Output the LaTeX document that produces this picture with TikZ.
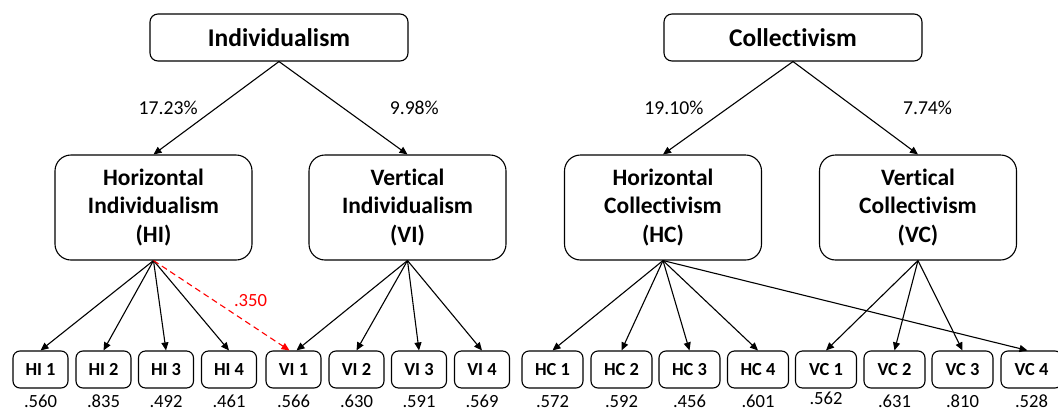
\documentclass[tikz,border=0pt]{standalone}
\usepackage{fontspec}
\setmainfont{Carlito}[Ligatures=NoCommon]
\usetikzlibrary{arrows.meta}

\begin{document}
\begin{tikzpicture}[x=1pt,y=-1pt,line width=1.1pt,
    topbox/.style={draw,rounded corners=8pt,minimum width=258pt,minimum height=47pt,
        font=\fontsize{25.5}{30}\selectfont\bfseries},
    midbox/.style={draw,rounded corners=16pt,minimum width=197pt,minimum height=105pt,
        align=center,font=\fontsize{23.5}{28.5}\selectfont\bfseries},
    itemI/.style={draw,rounded corners=7pt,minimum width=55pt,minimum height=37pt,
        inner sep=0pt,font=\fontsize{18.4}{22}\selectfont\bfseries},
    itemC/.style={itemI,minimum width=61pt},
    pct/.style={inner sep=0pt,font=\fontsize{19.7}{24}\selectfont},
    val/.style={inner sep=0pt,font=\fontsize{18.6}{22}\selectfont},
    label distance=6pt,
    arr/.style={-{Triangle[length=8pt,width=7pt]}}]
    \pgfmathsetmacro{\ytop}{37.5}
    \pgfmathsetmacro{\ymid}{207.5}
    \pgfmathsetmacro{\ybot}{369.5}

    \useasboundingbox (0,0) rectangle (1058,410);

    % Draw the two dimensions
    \node [topbox] (Ind) at (279,\ytop) {Individualism};
    \node [topbox] (Col) at (793,\ytop) {Collectivism};

    % Draw the four sub-dimensions
    \node [midbox] (HI) at (153.5,\ymid) {Horizontal\\Individualism\\(HI)};
    \node [midbox] (VI) at (407.5,\ymid) {Vertical\\Individualism\\(VI)};
    \node [midbox] (HC) at (663,\ymid) {Horizontal\\Collectivism\\(HC)};
    \node [midbox] (VC) at (918,\ymid) {Vertical\\Collectivism\\(VC)};

    % Draw the items with their loadings
    \node [itemI,label={[val]below:.560}] (HI1) at (40.5,\ybot) {HI 1};
    \node [itemI,label={[val]below:.835}] (HI2) at (103.5,\ybot) {HI 2};
    \node [itemI,label={[val]below:.492}] (HI3) at (166,\ybot) {HI 3};
    \node [itemI,label={[val]below:.461}] (HI4) at (229,\ybot) {HI 4};
    \node [itemI,label={[val]below:.566}] (VI1) at (293.5,\ybot) {VI 1};
    \node [itemI,label={[val]below:.630}] (VI2) at (356.5,\ybot) {VI 2};
    \node [itemI,label={[val]below:.591}] (VI3) at (419,\ybot) {VI 3};
    \node [itemI,label={[val]below:.569}] (VI4) at (482,\ybot) {VI 4};
    \node [itemC,label={[val]below:.572}] (HC1) at (552.5,\ybot) {HC 1};
    \node [itemC,label={[val]below:.592}] (HC2) at (621.5,\ybot) {HC 2};
    \node [itemC,label={[val]below:.456}] (HC3) at (689.5,\ybot) {HC 3};
    \node [itemC,label={[val]below:.601}] (HC4) at (758,\ybot) {HC 4};
    \node [itemC,label={[val,label distance=3pt]below:.562}] (VC1) at (826,\ybot) {VC 1};
    \node [itemC,label={[val]below:.631}] (VC2) at (894.5,\ybot) {VC 2};
    \node [itemC,label={[val]below:.810}] (VC3) at (962.5,\ybot) {VC 3};
    \node [itemC,label={[val]below:.528}] (VC4) at (1031.5,\ybot) {VC 4};

    % Draw the top arrows with percentages
    \draw [arr] (Ind.south) -- node [pct,left=18pt] {17.23\%} (HI.north);
    \draw [arr] (Ind.south) -- node [pct,right=46pt] {9.98\%} (VI.north);
    \draw [arr] (Col.south) -- node [pct,left=24pt] {19.10\%} (HC.north);
    \draw [arr] (Col.south) -- node [pct,right=47pt] {7.74\%} (VC.north);

    % Draw the item arrows
    \draw [arr] (HI.south) -- (HI1.north);
    \draw [arr] (HI.south) -- (HI2.north);
    \draw [arr] (HI.south) -- (HI3.north);
    \draw [arr] (HI.south) -- (HI4.north);
    \draw [arr] (VI.south) -- ([xshift=3pt]VI1.north);
    \draw [arr] (VI.south) -- (VI2.north);
    \draw [arr] (VI.south) -- (VI3.north);
    \draw [arr] (VI.south) -- (VI4.north);
    \draw [arr] (HC.south) -- (HC1.north);
    \draw [arr] (HC.south) -- (HC2.north);
    \draw [arr] (HC.south) -- (HC3.north);
    \draw [arr] (HC.south) -- (HC4.north);
    \draw [arr] (HC.south) -- ([xshift=-4pt]VC4.north);
    \draw [arr] (VC.south) -- (VC1.north);
    \draw [arr] (VC.south) -- (VC2.north);
    \draw [arr] (VC.south) -- (VC3.north);

    % Draw the cross loading
    \draw [arr,red,dash pattern=on 6pt off 4pt] (HI.south)
          -- node [val,right=12pt,yshift=5pt] {.350} ([xshift=-4pt]VI1.north);

\end{tikzpicture}
\end{document}
